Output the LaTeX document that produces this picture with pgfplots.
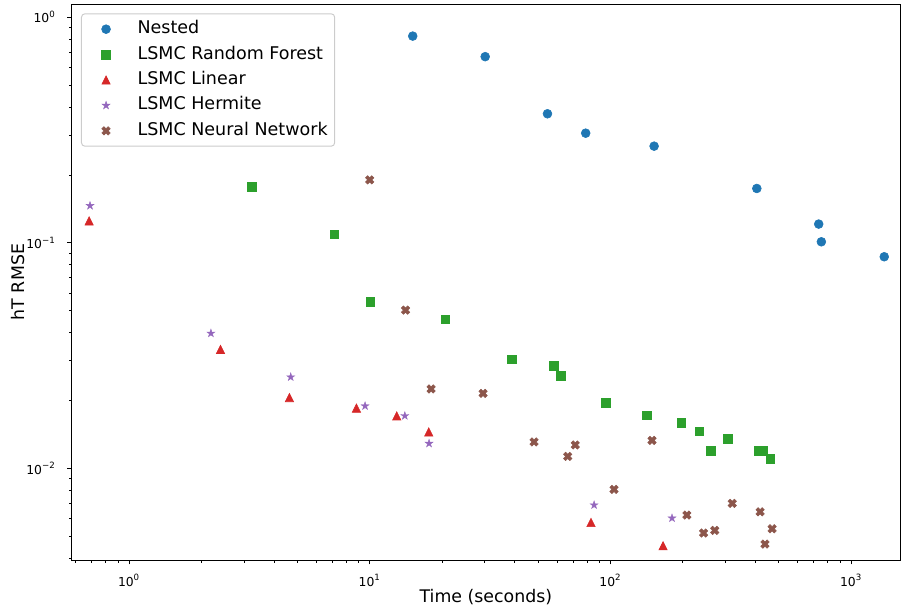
\documentclass[border=0pt]{standalone}
\usepackage{fontspec}
\setmainfont{DejaVu Sans}
\usepackage{pgfplots}
\pgfplotsset{compat=1.18}

\definecolor{cNested}{HTML}{1F77B4}
\definecolor{cRF}{HTML}{2CA02C}
\definecolor{cLin}{HTML}{D62728}
\definecolor{cHerm}{HTML}{9467BD}
\definecolor{cNN}{HTML}{8C564B}

% filled triangle (as wide as it is tall)
\pgfdeclareplotmark{tri}{%
  \pgfpathmoveto{\pgfqpoint{0pt}{\pgfplotmarksize}}%
  \pgfpathlineto{\pgfqpoint{-\pgfplotmarksize}{-\pgfplotmarksize}}%
  \pgfpathlineto{\pgfqpoint{\pgfplotmarksize}{-\pgfplotmarksize}}%
  \pgfpathclose
  \pgfusepathqfillstroke}
% filled five-pointed star
\pgfdeclareplotmark{fstar}{%
  \pgfpathmoveto{\pgfqpoint{0pt}{\pgfplotmarksize}}%
  \pgfpathlineto{\pgfqpoint{-0.2245\pgfplotmarksize}{0.3090\pgfplotmarksize}}%
  \pgfpathlineto{\pgfqpoint{-0.9511\pgfplotmarksize}{0.3090\pgfplotmarksize}}%
  \pgfpathlineto{\pgfqpoint{-0.3633\pgfplotmarksize}{-0.1180\pgfplotmarksize}}%
  \pgfpathlineto{\pgfqpoint{-0.5878\pgfplotmarksize}{-0.8090\pgfplotmarksize}}%
  \pgfpathlineto{\pgfqpoint{0pt}{-0.3820\pgfplotmarksize}}%
  \pgfpathlineto{\pgfqpoint{0.5878\pgfplotmarksize}{-0.8090\pgfplotmarksize}}%
  \pgfpathlineto{\pgfqpoint{0.3633\pgfplotmarksize}{-0.1180\pgfplotmarksize}}%
  \pgfpathlineto{\pgfqpoint{0.9511\pgfplotmarksize}{0.3090\pgfplotmarksize}}%
  \pgfpathlineto{\pgfqpoint{0.2245\pgfplotmarksize}{0.3090\pgfplotmarksize}}%
  \pgfpathclose
  \pgfusepathqfillstroke}
% filled diagonal cross
\pgfdeclareplotmark{fx}{%
  \pgfpathmoveto{\pgfqpoint{-0.4714\pgfplotmarksize}{0.9428\pgfplotmarksize}}%
  \pgfpathlineto{\pgfqpoint{0pt}{0.4714\pgfplotmarksize}}%
  \pgfpathlineto{\pgfqpoint{0.4714\pgfplotmarksize}{0.9428\pgfplotmarksize}}%
  \pgfpathlineto{\pgfqpoint{0.9428\pgfplotmarksize}{0.4714\pgfplotmarksize}}%
  \pgfpathlineto{\pgfqpoint{0.4714\pgfplotmarksize}{0pt}}%
  \pgfpathlineto{\pgfqpoint{0.9428\pgfplotmarksize}{-0.4714\pgfplotmarksize}}%
  \pgfpathlineto{\pgfqpoint{0.4714\pgfplotmarksize}{-0.9428\pgfplotmarksize}}%
  \pgfpathlineto{\pgfqpoint{0pt}{-0.4714\pgfplotmarksize}}%
  \pgfpathlineto{\pgfqpoint{-0.4714\pgfplotmarksize}{-0.9428\pgfplotmarksize}}%
  \pgfpathlineto{\pgfqpoint{-0.9428\pgfplotmarksize}{-0.4714\pgfplotmarksize}}%
  \pgfpathlineto{\pgfqpoint{-0.4714\pgfplotmarksize}{0pt}}%
  \pgfpathlineto{\pgfqpoint{-0.9428\pgfplotmarksize}{0.4714\pgfplotmarksize}}%
  \pgfpathclose
  \pgfusepathqfillstroke}

\pgfplotsset{
  lgimg/.style={legend image code/.code={%
    \path (0pt,0pt) (25pt,0pt);
    \draw[##1, fill opacity=1, draw opacity=1] plot coordinates {(12.5pt,0pt)};}},
}

\begin{document}
\begin{tikzpicture}
\begin{axis}[
  scale only axis, width=596.3pt, height=400.3pt,
  xmode=log, ymode=log,
  xmin=0.578, xmax=1598, ymin=0.003922, ymax=1.143,
  xtick={1,10,100,1000},
  xticklabels={10\textsuperscript{0},10\textsuperscript{1},10\textsuperscript{2},10\textsuperscript{3}},
  ytick={0.01,0.1,1},
  yticklabels={10\textsuperscript{−2},10\textsuperscript{−1},10\textsuperscript{0}},
  minor xtick={0.6,0.7,0.8,0.9,2,3,4,5,6,7,8,9,20,30,40,50,60,70,80,90,200,300,400,500,600,700,800,900},
  minor ytick={0.004,0.005,0.006,0.007,0.008,0.009,0.02,0.03,0.04,0.05,0.06,0.07,0.08,0.09,0.2,0.3,0.4,0.5,0.6,0.7,0.8,0.9},
  tick align=outside, xtick pos=left, ytick pos=left,
  major tick length=3.1pt, minor tick length=1.8pt,
  major tick style={black, line width=0.6pt},
  minor tick style={black, line width=0.45pt},
  axis line style={black, line width=0.7pt},
  xticklabel style={font=\fontsize{8.9}{10.7}\selectfont, anchor=base, yshift=-15.6pt},
  yticklabel style={font=\fontsize{8.9}{10.7}\selectfont, anchor=east, inner sep=0pt, xshift=-8.4pt},
  xlabel={Time (seconds)},
  ylabel={hT RMSE},
  xlabel style={font=\fontsize{12.5}{15}\selectfont, at={([yshift=-30.7pt]axis description cs:0.5,0)}, anchor=base},
  ylabel style={font=\fontsize{12.5}{15}\selectfont, at={([xshift=-34.3pt]axis description cs:0,0.5)}, anchor=base, rotate=0},
  legend cell align=left,
  legend style={at={([xshift=6.7pt,yshift=-6.7pt]axis description cs:0,1)}, anchor=north west,
    draw=black!20, line width=0.7pt, rounded corners=2.5pt, fill=white, fill opacity=0.8, text opacity=1,
    inner xsep=5pt, inner ysep=5.3pt, row sep=6.8pt, column sep=10pt,
    font=\fontsize{12.6}{15}\selectfont,
    nodes={inner sep=0pt, text height=9pt, text depth=2.5pt}},
]
\addplot[only marks, mark=*, color=cNested, mark size=3.2pt, line width=0.4pt, lgimg] coordinates {
  (15.1,0.824) (30.2,0.668) (54.8,0.373) (79.0,0.306) (152,0.268)
  (406,0.174) (734,0.121) (753,0.101) (1374,0.0867)
};
\addlegendentry{Nested}
\addplot[only marks, mark=square*, color=cRF, mark size=3.1pt, line width=0.4pt, lgimg] coordinates {
  (3.24,0.177) (7.14,0.109) (10.04,0.0548) (20.6,0.0458) (39.0,0.0304)
  (58.2,0.0285) (62.2,0.0258) (95.7,0.0195) (141.7,0.0172) (197,0.0159)
  (234,0.0146) (308,0.0135) (262,0.0120) (411,0.0120) (430,0.0120) (461,0.0110)
};
\addlegendentry{LSMC Random Forest}
\addplot[only marks, mark=tri, color=cLin, mark size=3.0pt, line width=0.4pt, lgimg] coordinates {
  (0.683,0.125) (2.40,0.0337) (4.64,0.0206) (8.81,0.0185) (12.96,0.0171)
  (17.6,0.0145) (83.1,0.00576) (165.6,0.00454)
};
\addlegendentry{LSMC Linear}
\addplot[only marks, mark=fstar, color=cHerm, mark size=3.0pt, line width=0.3pt, lgimg] coordinates {
  (0.689,0.146) (2.19,0.0397) (4.70,0.0254) (9.57,0.0189) (14.0,0.0171)
  (17.65,0.0129) (85.6,0.00688) (180.4,0.00602)
};
\addlegendentry{LSMC Hermite}
\addplot[only marks, mark=fx, color=cNN, mark size=3.2pt, line width=0.4pt, lgimg] coordinates {
  (10.0,0.190) (14.1,0.0503) (18.0,0.0225) (29.6,0.0215) (48.2,0.0131)
  (71.5,0.0127) (66.5,0.0113) (149,0.0133) (103.6,0.00807) (208,0.00621)
  (321,0.00700) (419,0.00642) (244,0.00517) (271.5,0.00531) (470,0.00540) (439,0.00462)
};
\addlegendentry{LSMC Neural Network}
\end{axis}
\pgfresetboundingbox
\path ([shift={(-51.6pt,-36.7pt)}]current axis.south west) rectangle ([shift={(0.7pt,2.9pt)}]current axis.north east);
\end{tikzpicture}
\end{document}
